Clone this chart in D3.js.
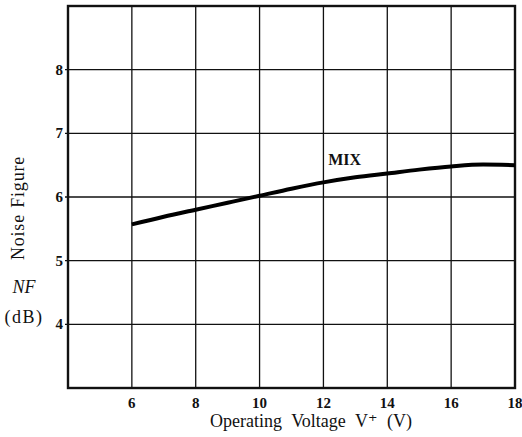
<!DOCTYPE html>
<html>
<head>
<meta charset="utf-8">
<script src="https://cdn.jsdelivr.net/npm/d3@7"></script>
<style>
  body { margin: 0; background: #fff; }
  svg text { font-family: "Liberation Serif", "DejaVu Serif", serif; fill: #111; }
</style>
</head>
<body>
<div id="chart"></div>
<script>
const width = 522;
const height = 437;
const margin = { top: 6, right: 7, bottom: 49, left: 68 };

// values
const voltage = [6, 7, 8, 9, 10, 11, 12, 13, 14, 15, 16, 17, 18];
const noiseFigure = [5.57, 5.69, 5.80, 5.91, 6.02, 6.13, 6.23, 6.31, 6.37, 6.43, 6.48, 6.51, 6.50];
const xTicks = [6, 8, 10, 12, 14, 16, 18];
const yTicks = [4, 5, 6, 7, 8];
const seriesLabel = "MIX";

const svg = d3.select("#chart").append("svg")
    .attr("width", width)
    .attr("height", height);

const x = d3.scaleLinear().domain([4, 18]).range([margin.left, width - margin.right]);
const y = d3.scaleLinear().domain([3, 9]).range([height - margin.bottom, margin.top]);

// grid
svg.append("g")
    .selectAll("line")
    .data(xTicks)
    .join("line")
    .attr("x1", d => x(d)).attr("x2", d => x(d))
    .attr("y1", y(9)).attr("y2", y(3))
    .attr("stroke", "#111").attr("stroke-width", 1.3);

svg.append("g")
    .selectAll("line")
    .data(yTicks)
    .join("line")
    .attr("x1", x(4) - 3).attr("x2", x(18))
    .attr("y1", d => y(d)).attr("y2", d => y(d))
    .attr("stroke", "#111").attr("stroke-width", 1.3);

// frame
svg.append("rect")
    .attr("x", x(4)).attr("y", y(9))
    .attr("width", x(18) - x(4)).attr("height", y(3) - y(9))
    .attr("fill", "none").attr("stroke", "#111").attr("stroke-width", 2.4);

// tick labels
svg.append("g")
    .selectAll("text")
    .data(xTicks)
    .join("text")
    .attr("x", d => x(d))
    .attr("y", y(3) + 20)
    .attr("text-anchor", "middle")
    .attr("font-size", 15)
    .attr("font-weight", "bold")
    .text(d => d);

svg.append("g")
    .selectAll("text")
    .data(yTicks)
    .join("text")
    .attr("x", x(4) - 5)
    .attr("y", d => y(d) + 5)
    .attr("text-anchor", "end")
    .attr("font-size", 15)
    .attr("font-weight", "bold")
    .text(d => d);

// curve
const line = d3.line()
    .x((d, i) => x(voltage[i]))
    .y(d => y(d))
    .curve(d3.curveMonotoneX);

svg.append("path")
    .datum(noiseFigure)
    .attr("d", line)
    .attr("fill", "none")
    .attr("stroke", "#000")
    .attr("stroke-width", 4);

svg.append("text")
    .attr("x", x(12.15))
    .attr("y", y(6.5))
    .attr("font-size", 16)
    .attr("font-weight", "bold")
    .text(seriesLabel);

// axis titles
svg.append("text")
    .attr("x", 311)
    .attr("y", 427)
    .attr("text-anchor", "middle")
    .attr("font-size", 18)
    .attr("word-spacing", 5)
    .text("Operating Voltage V\u207A (V)");

svg.append("text")
    .attr("transform", "translate(24,208) rotate(-90)")
    .attr("text-anchor", "middle")
    .attr("font-size", 18)
    .attr("letter-spacing", 0.8)
    .attr("word-spacing", 1)
    .text("Noise Figure");

svg.append("text")
    .attr("x", 24)
    .attr("y", 293)
    .attr("text-anchor", "middle")
    .attr("font-size", 18)
    .attr("font-style", "italic")
    .text("NF");

svg.append("text")
    .attr("x", 24)
    .attr("y", 323)
    .attr("text-anchor", "middle")
    .attr("font-size", 18)
    .attr("letter-spacing", 1.5)
    .text("(dB)");
</script>
</body>
</html>
